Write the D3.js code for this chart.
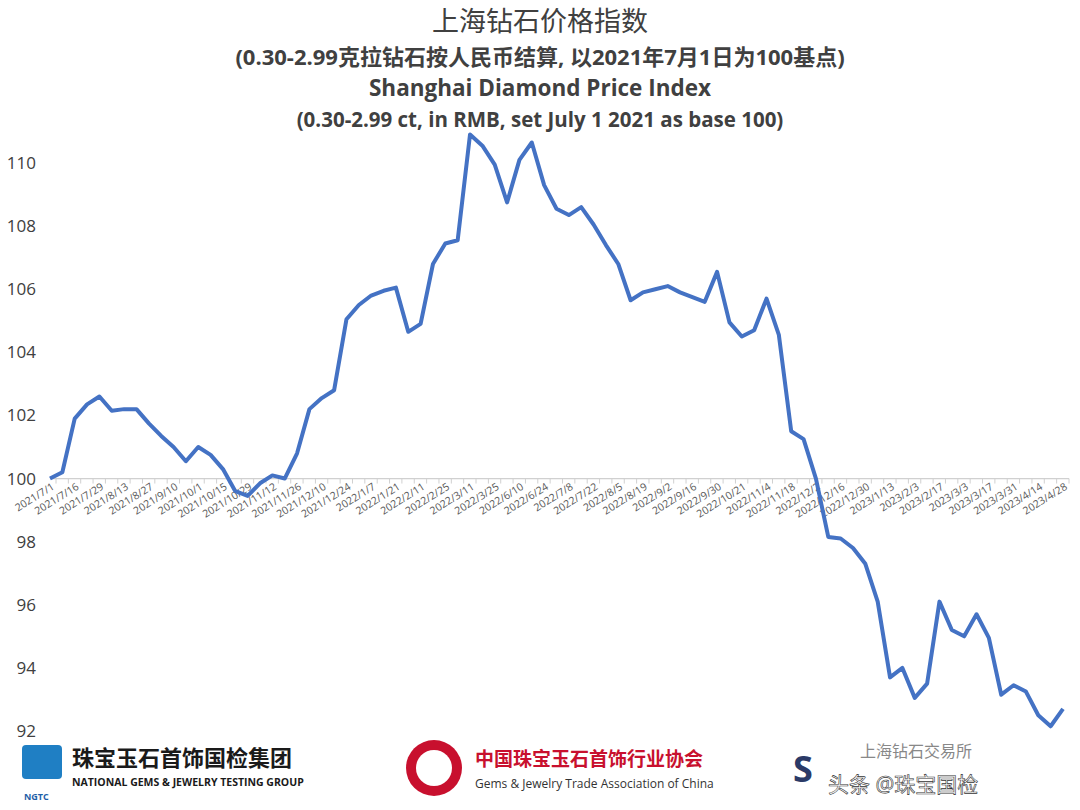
<!DOCTYPE html>
<html><head><meta charset="utf-8">
<script src="https://cdn.jsdelivr.net/npm/d3@7/dist/d3.min.js"></script>
<style>body{margin:0;background:#fff}svg{display:block}</style>
</head><body>
<svg id="c" width="1080" height="810"></svg>
<script>
const values=[100.0,100.2,101.9,102.35,102.6,102.15,102.2,102.2,101.75,101.35,101.0,100.55,101.0,100.75,100.3,99.6,99.45,99.85,100.1,100.0,100.8,102.2,102.55,102.8,105.05,105.5,105.8,105.95,106.05,104.65,104.9,106.8,107.45,107.55,110.9,110.55,109.95,108.75,110.1,110.65,109.3,108.55,108.35,108.6,108.05,107.4,106.8,105.65,105.9,106.0,106.1,105.9,105.75,105.6,106.55,104.95,104.5,104.7,105.7,104.55,101.5,101.25,100.0,98.15,98.1,97.8,97.3,96.1,93.7,94.0,93.05,93.5,96.1,95.2,95.0,95.7,94.95,93.15,93.45,93.25,92.5,92.15,92.7];
const tickLabels=["2021/7/1","2021/7/16","2021/7/29","2021/8/13","2021/8/27","2021/9/10","2021/10/1","2021/10/15","2021/10/29","2021/11/12","2021/11/26","2021/12/10","2021/12/24","2022/1/7","2022/1/21","2022/2/11","2022/2/25","2022/3/11","2022/3/25","2022/6/10","2022/6/24","2022/7/8","2022/7/22","2022/8/5","2022/8/19","2022/9/2","2022/9/16","2022/9/30","2022/10/21","2022/11/4","2022/11/18","2022/12/2","2022/12/16","2022/12/30","2023/1/13","2023/2/3","2023/2/17","2023/3/3","2023/3/17","2023/3/31","2023/4/14","2023/4/28"];
const yTicks=[92,94,96,98,100,102,104,106,108,110];
const titles=["上海钻石价格指数","(0.30-2.99克拉钻石按人民币结算, 以2021年7月1日为100基点)","Shanghai Diamond Price Index","(0.30-2.99 ct, in RMB, set July 1 2021 as base 100)"];

const svg=d3.select("#c");
const font="'Open Sans','Noto Sans CJK SC',sans-serif";
const x=d3.scaleLinear().domain([0,values.length-1]).range([50,1063]);
const y=d3.scaleLinear().domain([92,110]).range([731,163]);

svg.append("g").selectAll("text").data(yTicks).join("text")
 .attr("x",36).attr("y",d=>y(d)).attr("dy","0.35em").attr("text-anchor","end")
 .attr("font-family",font).attr("font-size",17).attr("fill","#404040").text(d=>d);

const ax=svg.append("g").attr("transform",`translate(0,${y(100)})`);
ax.append("line").attr("x1",x(0)).attr("x2",x(values.length-1)+6).attr("stroke","#d0d0d0").attr("stroke-width",1.2);
ax.selectAll("line.t").data(d3.range(values.length)).join("line").attr("class","t")
 .attr("x1",d=>x(d)+6).attr("x2",d=>x(d)+6).attr("y1",0).attr("y2",5).attr("stroke","#d0d0d0");
ax.selectAll("text").data(tickLabels).join("text")
 .attr("transform",(d,i)=>`translate(${x(i*2)+5},10) rotate(-32)`)
 .attr("text-anchor","end").attr("font-family",font).attr("font-size",10.5).attr("fill","#595959").text(d=>d);

svg.append("path").datum(values)
 .attr("d",d3.line().x((d,i)=>x(i)).y(d=>y(d)))
 .attr("fill","none").attr("stroke","#4472c4").attr("stroke-width",4).attr("stroke-linejoin","round");

const ty=[31,65,96,127], ts=[27,22,22.5,20.5];
titles.forEach((t,i)=>svg.append("text").attr("x",540).attr("y",ty[i]).attr("text-anchor","middle")
 .attr("font-family",font).attr("font-weight",i==0?"normal":"bold").attr("font-size",ts[i]).attr("fill","#404040").text(t));

const f=svg.append("g").attr("font-family",font);
f.append("rect").attr("x",22).attr("y",745).attr("width",40).attr("height",34).attr("fill","#1f7fc4").attr("rx",4);
f.append("text").attr("x",24).attr("y",800).attr("font-size",9).attr("font-weight","bold").attr("fill","#1f5fa8").text("NGTC");
f.append("text").attr("x",72).attr("y",766).attr("font-size",22).attr("font-weight","bold").attr("fill","#1a1a1a").text("珠宝玉石首饰国检集团");
f.append("text").attr("x",72).attr("y",786).attr("font-size",10.5).attr("font-weight","bold").attr("fill","#1a1a1a").text("NATIONAL GEMS & JEWELRY TESTING GROUP");
f.append("circle").attr("cx",434).attr("cy",768).attr("r",28).attr("fill","#c8102e");
f.append("circle").attr("cx",434).attr("cy",768).attr("r",18).attr("fill","#fff");
f.append("text").attr("x",475).attr("y",766).attr("font-size",19).attr("font-weight","bold").attr("fill","#c8102e").text("中国珠宝玉石首饰行业协会");
f.append("text").attr("x",475).attr("y",788).attr("font-size",12).attr("fill","#333").text("Gems & Jewelry Trade Association of China");
f.append("text").attr("x",793).attr("y",782).attr("font-size",36).attr("font-weight","bold").attr("fill","#2b3a67").text("S");
f.append("text").attr("x",860).attr("y",757).attr("font-size",16).attr("fill","#888").text("上海钻石交易所");
f.append("text").attr("x",828).attr("y",792).attr("font-size",21).attr("fill","#fff").attr("stroke","#333").attr("stroke-width",0.6).text("头条 @珠宝国检");
</script>
</body></html>
